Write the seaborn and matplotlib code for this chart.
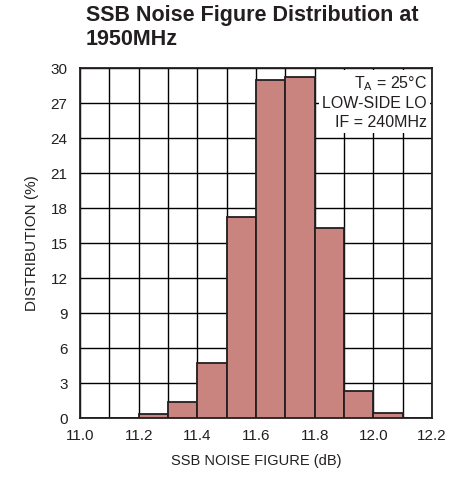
import numpy as np
import pandas as pd
import matplotlib
matplotlib.use('Agg')
import matplotlib.pyplot as plt
import seaborn as sns

# bins (dB) and the distribution (%)
bin_edges = [11.0, 11.1, 11.2, 11.3, 11.4, 11.5, 11.6, 11.7, 11.8, 11.9, 12.0, 12.1, 12.2]
bin_left = [11.1, 11.2, 11.3, 11.4, 11.5, 11.6, 11.7, 11.8, 11.9, 12.0]
distribution = [0.0, 0.34, 1.34, 4.68, 17.2, 28.95, 29.2, 16.27, 2.34, 0.43]
x_ticks = [11.0, 11.2, 11.4, 11.6, 11.8, 12.0, 12.2]
y_ticks = [0, 3, 6, 9, 12, 15, 18, 21, 24, 27, 30]

sns.set_style('white')
plt.rcParams['font.family'] = ['Liberation Sans', 'DejaVu Sans']
plt.rcParams['mathtext.fontset'] = 'custom'
plt.rcParams['mathtext.rm'] = 'Liberation Sans'

df = pd.DataFrame({'nf': [b + 0.05 for b in bin_left], 'pct': distribution})

fig = plt.figure(figsize=(4.52, 4.8), dpi=100)
ax = fig.add_axes([0.177, 0.129, 0.779, 0.729])

sns.histplot(data=df, x='nf', weights='pct', bins=bin_edges, ax=ax,
             color='#c98480', alpha=1, edgecolor='#231f20', linewidth=1.3, zorder=3)

ax.set_xlim(11.0, 12.2)
ax.set_ylim(0, 30)
ax.set_xticks(x_ticks)
ax.set_xticklabels([f'{t:.1f}' for t in x_ticks])
ax.set_xticks(bin_edges, minor=True)
ax.set_yticks(y_ticks)
ax.grid(True, which='both', color='black', linewidth=1.0, zorder=0)
ax.set_axisbelow(True)
ax.tick_params(axis='both', which='both', length=0, labelsize=11, colors='#231f20')
ax.tick_params(axis='y', pad=9)
ax.tick_params(axis='x', pad=8)
for s in ax.spines.values():
    s.set_color('#231f20')
    s.set_linewidth(1.3)

ax.set_xlabel('SSB NOISE FIGURE (dB)', fontsize=10.5, labelpad=8, color='#231f20')
ax.set_ylabel('DISTRIBUTION (%)', fontsize=11, labelpad=8, color='#231f20')

ax.text(0.985, 0.983, 'T$_\\mathregular{A}$ = 25°C\nLOW-SIDE LO\nIF = 240MHz',
        transform=ax.transAxes, ha='right', va='top', fontsize=11.5,
        linespacing=1.3, color='#231f20', zorder=5,
        bbox=dict(facecolor='white', edgecolor='none', pad=2))

fig.text(0.19, 0.99, 'SSB Noise Figure Distribution at\n1950MHz', ha='left', va='top',
         fontsize=15.5, fontweight='bold', linespacing=1.2, color='#231f20')

fig.savefig('out.png', dpi=100)
